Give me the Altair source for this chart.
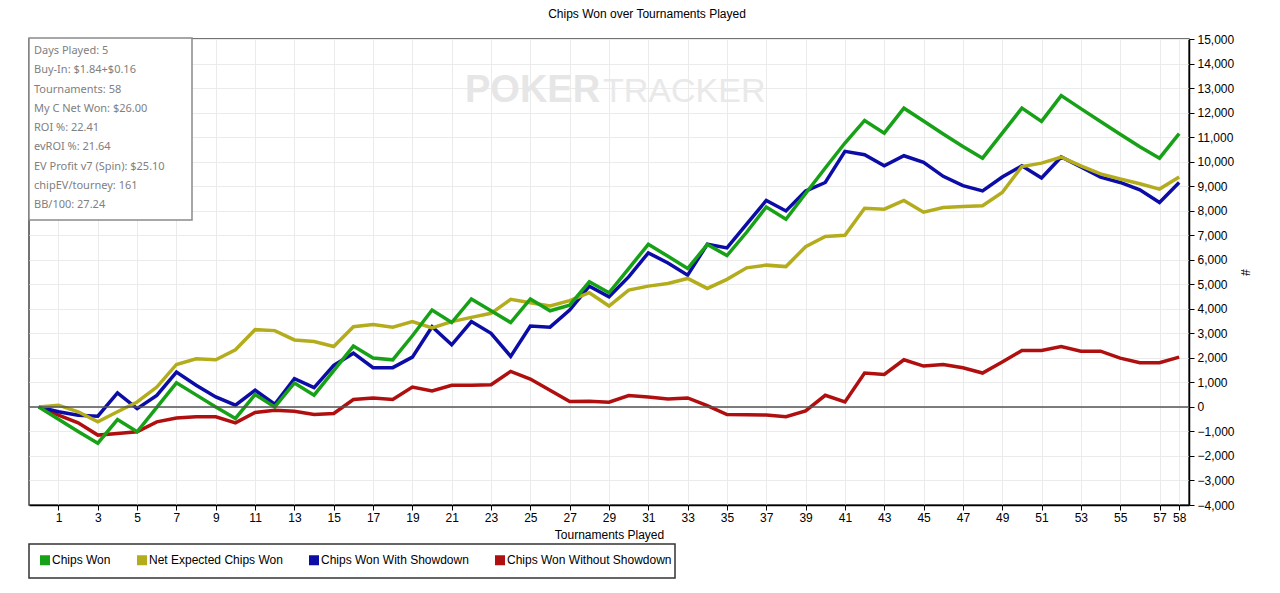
import altair as alt
import pandas as pd

tournaments = list(range(0, 59))

chips_won = [0, -500, -1000, -1480, -515, -1015, -20, 980, 490, 0,
             -470, 500, 0, 975, 480, 1475, 2480, 1990, 1920, 2900,
             3950, 3440, 4400, 3920, 3440, 4400, 3920, 4150, 5100, 4650,
             5640, 6630, 6140, 5640, 6620, 6170, 7120, 8150, 7650, 8700,
             9740, 10760, 11680, 11160, 12180, 11660, 11130, 10620, 10140, 11160,
             12180, 11640, 12690, 12160, 11640, 11120, 10610, 10140, 11140]

net_expected = [0, 70, -200, -610, -200, 200, 810, 1730, 1960, 1920,
                2330, 3150, 3110, 2730, 2665, 2460, 3270, 3355, 3250, 3475,
                3220, 3477, 3650, 3815, 4384, 4248, 4113, 4330, 4654, 4113,
                4762, 4925, 5033, 5236, 4830, 5200, 5670, 5780, 5720, 6530,
                6950, 7000, 8100, 8060, 8420, 7940, 8130, 8170, 8200, 8740,
                9800, 9940, 10185, 9830, 9500, 9290, 9100, 8880, 9370]

with_showdown = [0, -200, -340, -380, 570, -70, 470, 1420, 880, 405,
                 70, 680, 110, 1150, 785, 1690, 2190, 1600, 1600, 2030,
                 3270, 2530, 3480, 3000, 2060, 3300, 3250, 3950, 4920, 4490,
                 5300, 6280, 5870, 5370, 6630, 6480, 7450, 8420, 7990, 8800,
                 9150, 10420, 10280, 9830, 10240, 9970, 9400, 9020, 8810, 9370,
                 9830, 9330, 10190, 9780, 9370, 9150, 8850, 8330, 9150]

without_showdown = [0, -340, -650, -1150, -1080, -1015, -610, -450, -405, -405,
                    -650, -230, -135, -175, -310, -270, 300, 365, 300, 810,
                    650, 880, 880, 906, 1448, 1136, 676, 216, 230, 190,
                    460, 406, 325, 365, 54, -311, -320, -330, -400, -160,
                    474, 203, 1380, 1326, 1921, 1664, 1732, 1597, 1380, 1830,
                    2300, 2300, 2462, 2273, 2273, 1989, 1800, 1800, 2030]

series_names = ["Chips Won", "Net Expected Chips Won",
                "Chips Won With Showdown", "Chips Won Without Showdown"]
series_colors = ["#17a117", "#b3ad1d", "#0c0ca6", "#b00f0f"]

x_ticks = list(range(1, 58, 2)) + [58]
y_ticks = list(range(-4000, 15001, 1000))

stats_lines = ["Days Played: 5", "Buy-In: $1.84+$0.16", "Tournaments: 58",
               "My C Net Won: $26.00", "ROI %: 22.41", "evROI %: 21.64",
               "EV Profit v7 (Spin): $25.10", "chipEV/tourney: 161", "BB/100: 27.24"]

rows = []
for name, vals in [(series_names[3], without_showdown), (series_names[2], with_showdown),
                   (series_names[1], net_expected), (series_names[0], chips_won)]:
    for t, v in zip(tournaments, vals):
        rows.append({"Tournament": t, "Chips": v, "Series": name})
df = pd.DataFrame(rows)

FONT = "Liberation Sans"

xscale = alt.Scale(domain=[-0.5, 58.5], nice=False, zero=False)
yscale = alt.Scale(domain=[-4000, 15000], nice=False, zero=False)

x_axis = alt.Axis(values=x_ticks, title="Tournaments Played", grid=True,
                  labelOverlap=False, labelFlush=False, tickSize=5,
                  labelPadding=2, titlePadding=6)
y_axis = alt.Axis(orient="right", values=y_ticks, title="#",
                  labelExpr="format(datum.value, ',')",
                  labelOverlap=False, labelFlush=False, tickSize=5,
                  labelPadding=3, titlePadding=3, grid=True)

one = pd.DataFrame({"a": [0]})

watermark1 = alt.Chart(one).mark_text(
    text="POKER", font="Liberation Sans", fontWeight="bold", fontSize=38,
    color="#e6e6e6", align="left", baseline="alphabetic"
).encode(x=alt.value(436), y=alt.value(63))

watermark2 = alt.Chart(one).mark_text(
    text="TRACKER", font="Liberation Sans", fontWeight="normal", fontSize=34,
    color="#e9e9e9", align="left", baseline="alphabetic"
).encode(x=alt.value(574), y=alt.value(63))

lines = alt.Chart(df).mark_line(strokeWidth=3.5).encode(
    x=alt.X("Tournament:Q", scale=xscale, axis=x_axis),
    y=alt.Y("Chips:Q", scale=yscale, axis=y_axis),
    color=alt.Color("Series:N",
                    scale=alt.Scale(domain=series_names, range=series_colors),
                    legend=alt.Legend(
                        orient="none", legendX=0, legendY=505, direction="horizontal",
                        columns=4, title=None, symbolType="square", symbolSize=1,
                        symbolStrokeWidth=9, symbolOpacity=1,
                        labelFont=FONT, labelFontSize=12, labelColor="black",
                        labelLimit=400, columnPadding=12, labelOffset=1, padding=10,
                        rowPadding=0)),
    detail="Series:N",
)

zero_rule = alt.Chart(pd.DataFrame({"z": [0]})).mark_rule(
    color="#555555", strokeWidth=1.5
).encode(y=alt.Y("z:Q", scale=yscale, axis=y_axis))

legend_box = alt.Chart(one).mark_rect(
    fill="white", stroke="#333333", strokeWidth=1.5
).encode(x=alt.value(0), x2=alt.value(646), y=alt.value(505), y2=alt.value(539))

stats_box = alt.Chart(one).mark_rect(
    fill="white", stroke="#8a8a8a", strokeWidth=1.5
).encode(x=alt.value(0), x2=alt.value(163), y=alt.value(-1), y2=alt.value(181))

stats_text = alt.Chart(one).mark_text(
    align="left", baseline="top", font="Noto Sans", fontSize=11,
    color="#808080", lineHeight=19.25
).encode(x=alt.value(5), y=alt.value(6), text=alt.value(stats_lines))

chart = alt.layer(watermark1, watermark2, lines, zero_rule, legend_box,
                  stats_box, stats_text).properties(
    width=1160, height=466,
    autosize=alt.AutoSizeParams(type="none"),
    padding={"left": 21, "top": 31, "right": 83, "bottom": 78},
    title=alt.Title("Chips Won over Tournaments Played", fontSize=12, font=FONT,
                    fontWeight="normal", color="black", offset=12, dx=38),
    background="white",
).configure_view(
    stroke="#444444", strokeWidth=1.5
).configure_axis(
    labelFont=FONT, labelFontSize=12, labelColor="black",
    titleFont=FONT, titleFontSize=12, titleFontWeight="normal", titleColor="black",
    domainColor="black", domainWidth=1.5, tickColor="black",
    gridColor="#ebebeb", gridWidth=1,
)

chart.save("out.html", embed_options={"renderer": "svg", "actions": False})
